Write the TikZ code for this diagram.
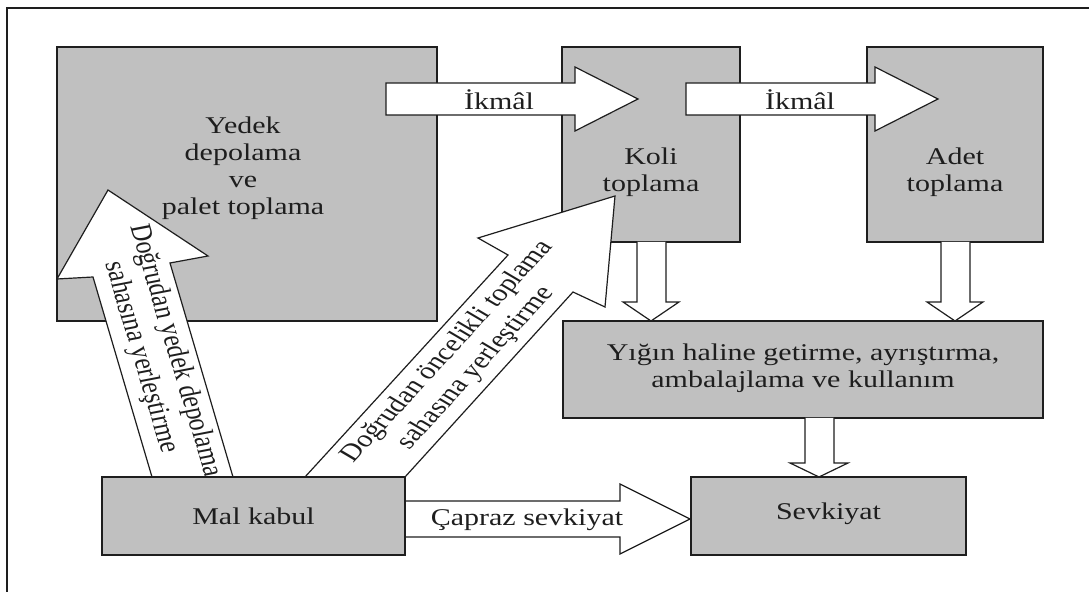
\documentclass[tikz,border=0pt]{standalone}
\usepackage{fontspec}
\setmainfont{Liberation Serif}[FakeStretch=1.25]
\newfontfamily\rotserif{Liberation Serif}
\definecolor{boxgray}{RGB}{192,192,192}
\definecolor{ink}{RGB}{30,30,30}
\begin{document}
\begin{tikzpicture}[x=0.5pt,y=0.5pt,
  box/.style={draw=ink, line width=1pt, fill=boxgray, inner sep=0pt},
  boxlabel/.style={font=\fontsize{12}{13.5}\selectfont, text=ink, align=center, inner sep=0pt},
  blockarrow/.style={draw=ink, line width=0.6pt, fill=white, line join=miter},
  rotlabel/.style={font=\rotserif\fontsize{12}{14}\selectfont, text=ink, align=center, inner sep=0pt, transform shape}]
\useasboundingbox (0,0) rectangle (1089,-592);
% outer frame (only left and top edges fall inside the page)
\draw[line width=1pt, draw=ink] (7,-592) -- (7,-8) -- (1089,-8);

% upper boxes
\node[box, minimum width=190pt, minimum height=137pt] (yedek) at (247,-184) {};
\node[box, minimum width=89pt, minimum height=97.5pt] (koli) at (651,-144.5) {};
\node[box, minimum width=88pt, minimum height=97.5pt] (adet) at (955,-144.5) {};
\node[box, minimum width=240pt, minimum height=48.5pt] (yigin) at (803,-369.5) {};

% replenishment arrows
\draw[blockarrow] (386,-83) -- (575,-83) -- (575,-67) -- (638,-99) -- (575,-131) -- (575,-115) -- (386,-115) -- cycle;
\draw[blockarrow] (686,-83) -- (875,-83) -- (875,-67) -- (938,-99) -- (875,-131) -- (875,-115) -- (686,-115) -- cycle;

% downward arrows
\draw[blockarrow] (637,-242) -- (637,-302) -- (623,-302) -- (651,-321) -- (679,-302) -- (666,-302) -- (666,-242);
\draw[blockarrow] (941,-242) -- (941,-302) -- (927,-302) -- (955,-321) -- (983,-302) -- (970,-302) -- (970,-242);
\draw[blockarrow] (805,-418) -- (805,-463) -- (790,-463) -- (819,-477) -- (848,-463) -- (834,-463) -- (834,-418);

% cross-docking arrow
\draw[blockarrow] (405,-501) -- (620,-501) -- (620,-484) -- (690,-519) -- (620,-554) -- (620,-537) -- (405,-537);

% direct put-away arrows
\draw[blockarrow] (152,-477) -- (93,-277) -- (57,-279) -- (108,-190) -- (208,-256) -- (170,-263) -- (233,-477);
\draw[blockarrow] (305,-477) -- (508,-255) -- (478,-238) -- (615,-196) -- (605,-307) -- (573,-292) -- (405,-477);

% lower boxes
\node[box, minimum width=151.5pt, minimum height=39pt] (mal) at (253.5,-516) {};
\node[box, minimum width=137.5pt, minimum height=39pt] (sevk) at (828.5,-516) {};

% box texts
\node[boxlabel] (yedektxt) at (243,-168) {Yedek\\depolama\\ve\\palet toplama};
\node[boxlabel] (kolitxt) at (651,-172) {Koli\\toplama};
\node[boxlabel] (adettxt) at (955,-172) {Adet\\toplama};
\node[boxlabel] (yigintxt) at (803,-368) {Yığın haline getirme, ayrıştırma,\\ambalajlama ve kullanım};
\node[boxlabel] (maltxt) at (253.5,-516) {Mal kabul};
\node[boxlabel] (sevktxt) at (828.5,-514) {Sevkiyat};

% arrow texts
\node[boxlabel] (ikmal1) at (499,-100) {İkmâl};
\node[boxlabel] (ikmal2) at (800,-100) {İkmâl};
\node[boxlabel] (capraz) at (527,-520) {Çapraz sevkiyat};

\begin{scope}[shift={(158,-354)}, xscale=1.25, rotate=-76.5]
  \node[rotlabel] (yedekyol) at (0,0) {Doğrudan yedek depolama\\sahasına yerleştirme};
\end{scope}
\begin{scope}[shift={(462,-360)}, xscale=1.25, rotate=53.6]
  \node[rotlabel] (koliyol) at (0,0) {Doğrudan öncelikli toplama\\sahasına yerleştirme};
\end{scope}
\end{tikzpicture}
\end{document}
